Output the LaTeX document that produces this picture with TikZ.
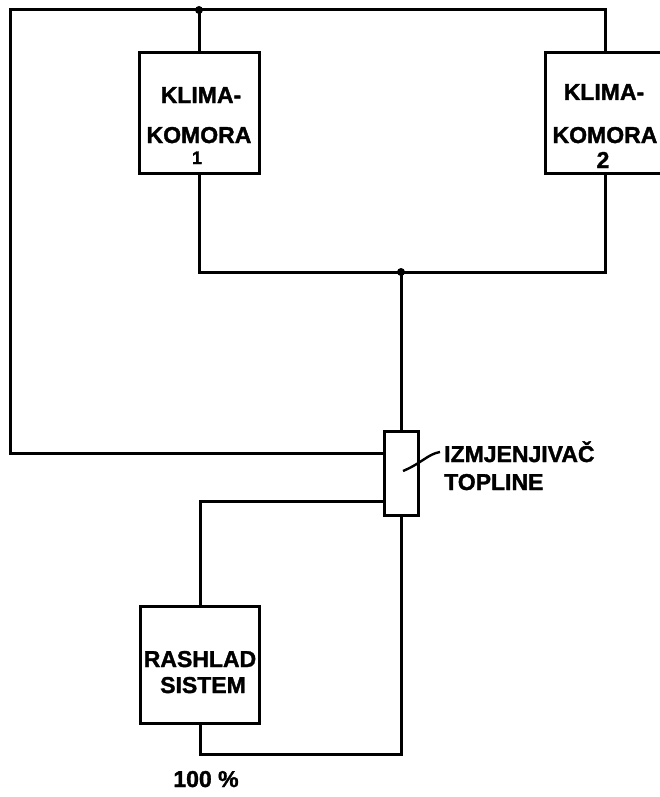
\documentclass[tikz,border=0pt]{standalone}
\usepackage{fontspec}
\setmainfont[BoldFeatures={FakeBold=1.5}]{Liberation Sans}
\begin{document}
\begin{tikzpicture}[x=1pt,y=-1pt,
  wire/.style={line width=3pt, line join=miter, line cap=rect},
  unitbox/.style={draw, line width=3pt, minimum width=120pt, minimum height=120pt, inner sep=0pt},
  lbl/.style={inner sep=0pt, anchor=base, font=\fontsize{23}{23}\selectfont\bfseries},
  lblw/.style={inner sep=0pt, anchor=base west, font=\fontsize{23}{23}\selectfont\bfseries},
  junction/.style={circle, fill, inner sep=0pt, minimum size=8pt}]
\useasboundingbox (0,0) rectangle (660,797);
% boxes
\node[unitbox] (k1) at (199,113) {};
\node[unitbox] (k2) at (605,113) {};
\node[unitbox, minimum width=34pt, minimum height=84pt] (hx) at (401,473) {};
\node[unitbox, minimum width=119pt, minimum height=117pt] (rs) at (200,664.5) {};
% coordinates
\coordinate (tl) at (10,10);
\coordinate (tr) at (605,10);
\coordinate (bl) at (10,453);
\coordinate (lo) at (200,501);
\coordinate (bot) at (200,754);
\coordinate (mid) at (401,272);
\node[junction] (j1) at (199,10) {};
\node[junction] (j2) at (mid) {};
% connectors
\draw[wire] (k1.north) -- (j1.center);
\draw[wire] (j1.center) -- (tl) -- (bl) -- (bl -| hx.west);
\draw[wire] (j1.center) -- (tr) -- (k2.north);
\draw[wire] (k1.south) |- (j2.center);
\draw[wire] (k2.south) |- (j2.center);
\draw[wire] (j2.center) -- (hx.north);
\draw[wire] (rs.north) |- (lo -| hx.west);
\draw[wire] (rs.south) |- (bot -| hx.south) -- (hx.south);
% leader line
\coordinate (lead) at (440,452);
\draw[line width=2.4pt] (403,471) .. controls (422,463) and (428,454) .. (lead);
% texts
\node[lbl] (t1a) at (201,103) {KLIMA-};
\node[lbl] (t1b) at (199,143) {KOMORA};
\node[lbl, font=\fontsize{18}{18}\selectfont\bfseries] (t1c) at (197,164) {1};
\node[lbl] (t2a) at (604,100) {KLIMA-};
\node[lbl] (t2b) at (605,143) {KOMORA};
\node[lbl] (t2c) at (603,168) {2};
\node[lblw] (hxa) at (444,462) {IZMJENJIVAČ};
\node[lblw] (hxb) at (444,490) {TOPLINE};
\node[lbl] (rsa) at (200,667) {RASHLAD};
\node[lbl] (rsb) at (203,693) {SISTEM};
\node[lbl] (pct) at (206,787) {100 \%};
\end{tikzpicture}
\end{document}
